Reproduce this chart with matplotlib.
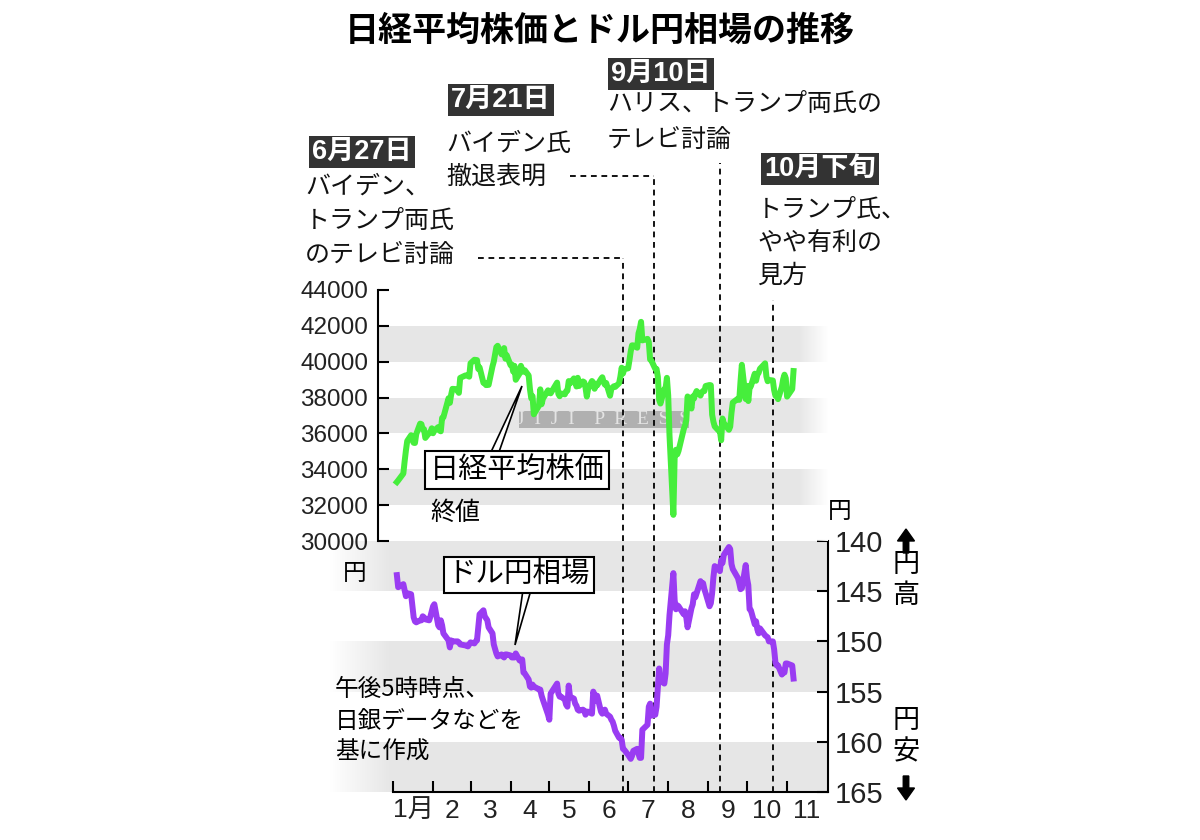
import numpy as np
import pandas as pd
import matplotlib
matplotlib.use('Agg')
import matplotlib.pyplot as plt
from matplotlib.patches import Rectangle, Polygon
from matplotlib.transforms import blended_transform_factory

plt.rcParams['font.family'] = ['Noto Sans CJK JP', 'DejaVu Sans']

# 日経平均株価 終値 (2024年)
nikkei_dates = [
    '01-04', '01-05', '01-09', '01-10', '01-11', '01-12', '01-15', '01-16', '01-17', '01-18',
    '01-19', '01-22', '01-23', '01-24', '01-25', '01-26', '01-29', '01-30', '01-31',
    '02-01', '02-02', '02-05', '02-06', '02-07', '02-08', '02-09', '02-13', '02-14', '02-15',
    '02-16', '02-19', '02-20', '02-21', '02-22', '02-26', '02-27', '02-28', '02-29',
    '03-01', '03-04', '03-05', '03-06', '03-07', '03-08', '03-11', '03-12', '03-13', '03-14',
    '03-15', '03-18', '03-19', '03-21', '03-22', '03-25', '03-26', '03-27', '03-28', '03-29',
    '04-01', '04-02', '04-03', '04-04', '04-05', '04-08', '04-09', '04-10', '04-11', '04-12',
    '04-15', '04-16', '04-17', '04-18', '04-19', '04-22', '04-23', '04-24', '04-25', '04-26',
    '04-30', '05-01', '05-02', '05-07', '05-08', '05-09', '05-10', '05-13', '05-14', '05-15',
    '05-16', '05-17', '05-20', '05-21', '05-22', '05-23', '05-24', '05-27', '05-28', '05-29',
    '05-30', '05-31', '06-03', '06-04', '06-05', '06-06', '06-07', '06-10', '06-11', '06-12',
    '06-13', '06-14', '06-17', '06-18', '06-19', '06-20', '06-21', '06-24', '06-25', '06-26',
    '06-27', '06-28', '07-01', '07-02', '07-03', '07-04', '07-05', '07-08', '07-09', '07-10',
    '07-11', '07-12', '07-16', '07-17', '07-18', '07-19', '07-22', '07-23', '07-24', '07-25',
    '07-26', '07-29', '07-30', '07-31', '08-01', '08-02', '08-05', '08-06', '08-07', '08-08',
    '08-09', '08-13', '08-14', '08-15', '08-16', '08-19', '08-20', '08-21', '08-22', '08-23',
    '08-26', '08-27', '08-28', '08-29', '08-30', '09-02', '09-03', '09-04', '09-05', '09-06',
    '09-09', '09-10', '09-11', '09-12', '09-13', '09-17', '09-18', '09-19', '09-20', '09-24',
    '09-25', '09-26', '09-27', '09-30', '10-01', '10-02', '10-03', '10-04', '10-07', '10-08',
    '10-09', '10-10', '10-11', '10-15', '10-16', '10-17', '10-18', '10-21', '10-22', '10-23',
    '10-24', '10-25', '10-28', '10-29', '10-30', '10-31', '11-01', '11-05', '11-06',
]
nikkei_values = [
    33288, 33377, 33763, 34441, 35049, 35577, 35901, 35619, 35477, 35466,
    35963, 36546, 36517, 36226, 36236, 35751, 36026, 36065, 36286,
    36011, 36158, 36354, 36160, 36119, 36863, 36897, 37963, 37703, 38157,
    38487, 38470, 38363, 38262, 39098, 39233, 39239, 39208, 39166,
    39910, 40109, 40097, 40090, 39598, 39688, 38820, 38797, 38695, 38807,
    38707, 39740, 40003, 40815, 40888, 40414, 40398, 40762, 40168, 40369,
    39803, 39838, 39451, 39773, 38992, 39347, 39773, 39581, 39442, 39523,
    39232, 38471, 37962, 38079, 37068, 37438, 37552, 38460, 37628, 37934,
    38405, 38274, 38236, 38835, 38202, 38073, 38229, 38179, 38356, 38385,
    38920, 38787, 39069, 38946, 38617, 39103, 38646, 38900, 38855, 38556,
    38054, 38487, 38923, 38837, 38490, 38703, 38683, 39038, 39134, 38876,
    38720, 38814, 38102, 38482, 38570, 38633, 38596, 38804, 39173, 39667,
    39341, 39583, 39631, 40074, 40580, 40913, 40912, 40780, 41580, 41831,
    42224, 41190, 41275, 41097, 40126, 40063, 39599, 39594, 39154, 37869,
    37667, 38468, 38526, 39101, 38126, 35909, 31458, 34675, 35089, 34831,
    35025, 36232, 36442, 36726, 38062, 37388, 38062, 37951, 38211, 38364,
    38110, 38288, 38371, 38362, 38647, 38700, 38686, 37047, 36657, 36391,
    36159, 36159, 35619, 36833, 36581, 36203, 36380, 37155, 37723, 37940,
    37870, 38925, 39829, 37919, 38651, 37808, 38552, 38635, 39332, 38937,
    39277, 39380, 39605, 39910, 39180, 38911, 38981, 38954, 38411, 38104,
    38143, 37913, 38605, 39027, 39277, 39081, 38053, 38474, 39480,
]

# ドル円相場 (午後5時時点)
usdjpy_dates = nikkei_dates
usdjpy_values = [
    143.4, 144.6, 144.3, 144.9, 145.5, 145.2, 145.3, 146.5, 147.6, 148.0,
    148.1, 147.9, 147.9, 147.5, 147.6, 147.8, 147.9, 147.5, 147.0,
    146.5, 146.3, 148.4, 148.6, 147.9, 148.4, 149.2, 149.9, 150.6, 149.9,
    150.0, 150.0, 150.0, 150.1, 150.3, 150.4, 150.4, 150.5, 150.3,
    150.1, 150.2, 150.0, 149.9, 148.6, 147.3, 146.9, 147.5, 147.7, 147.9,
    148.6, 149.2, 150.3, 151.2, 151.5, 151.3, 151.5, 151.6, 151.3, 151.3,
    151.4, 151.6, 151.6, 151.6, 151.2, 151.9, 151.8, 151.8, 153.1, 153.2,
    153.8, 154.5, 154.6, 154.3, 154.5, 154.7, 154.8, 154.8, 155.4, 155.8,
    157.3, 157.8, 155.2, 154.2, 155.2, 155.5, 155.5, 155.8, 156.3, 156.5,
    154.4, 155.5, 155.7, 156.2, 156.4, 156.8, 156.9, 156.8, 156.9, 157.3,
    157.0, 157.0, 157.2, 155.0, 155.4, 155.9, 155.4, 157.0, 157.2, 157.1,
    156.8, 157.2, 157.5, 157.8, 158.0, 158.4, 158.9, 159.6, 159.6, 159.8,
    160.7, 160.8, 161.3, 161.5, 161.7, 161.4, 160.9, 160.7, 161.2, 161.6,
    161.6, 158.8, 158.3, 156.5, 156.2, 157.4, 157.3, 156.5, 154.6, 152.7,
    153.9, 154.2, 153.2, 150.3, 149.4, 147.4, 143.2, 145.9, 146.8, 146.4,
    146.5, 147.3, 147.0, 147.6, 148.6, 146.7, 146.3, 145.3, 145.6, 145.2,
    144.0, 144.5, 144.2, 144.8, 145.2, 146.5, 146.2, 145.2, 143.6, 142.5,
    142.8, 143.0, 141.9, 142.2, 141.4, 140.6, 140.8, 142.3, 142.8, 143.7,
    144.2, 144.8, 144.7, 142.4, 143.7, 144.4, 146.8, 146.9, 148.3, 148.0,
    148.8, 149.2, 148.7, 149.4, 149.5, 149.6, 150.0, 150.0, 150.8, 152.1,
    152.4, 152.4, 153.3, 153.0, 153.1, 152.2, 152.2, 152.4, 153.7,
]

month_labels = ['1月', '2', '3', '4', '5', '6', '7', '8', '9', '10', '11']
nikkei_ticks = list(range(30000, 44001, 2000))
usdjpy_ticks = [140, 145, 150, 155, 160, 165]

event_dates = ['06-27', '07-21', '09-10', '10-21']
event_labels = ['6月27日', '7月21日', '9月10日', '10月下旬']
event_texts = [
    ['バイデン、', 'トランプ両氏', 'のテレビ討論'],
    ['バイデン氏', '撤退表明'],
    ['ハリス、トランプ両氏の', 'テレビ討論'],
    ['トランプ氏、', 'やや有利の', '見方'],
]


def day_of_year(md_list):
    d = pd.to_datetime(['2024-' + s for s in md_list])
    return np.asarray(d.dayofyear - 1, dtype=float)


nk_x = day_of_year(nikkei_dates)
fx_x = day_of_year(usdjpy_dates)
ev_x = day_of_year(event_dates)
month_start = np.asarray(pd.date_range('2024-01-01', '2024-12-01', freq='MS').dayofyear - 1, dtype=float)
month_start[-1] = 335
month_mid = (month_start[:-1] + month_start[1:]) / 2

W, H = 1200, 840
X0 = 393          # 1月1日の位置(px)
PPD = 1.292       # 1日あたりのpx
GREEN = '#46ee3c'
PURPLE = '#9a3cf2'
BAND = '#e6e6e6'
NUM_FONT = ['Liberation Sans', 'Noto Sans CJK JP']


def fbox(l, t, r, b):
    return [l / W, 1 - b / H, (r - l) / W, (b - t) / H]


def px2day(x):
    return (x - X0) / PPD


fig = plt.figure(figsize=(12, 8.4), dpi=100)
fig.patch.set_facecolor('white')

ax2 = fig.add_axes(fbox(330, 541, 828, 792))
ax1 = fig.add_axes(fbox(378, 290, 828, 541))
ov = fig.add_axes([0, 0, 1, 1])
ax2.set_zorder(1)
ax1.set_zorder(2)
ov.set_zorder(3)
ov.set_xlim(0, W)
ov.set_ylim(H, 0)
ov.axis('off')

# ---- 上段: 日経平均株価 ----
for lo in nikkei_ticks[1::2]:
    ax1.axhspan(lo, lo + 2000, color=BAND, lw=0, zorder=0)
fade = np.ones((1, 64, 4))
fade[..., 3] = np.linspace(0, 1, 64)
ax1.imshow(fade, extent=[px2day(798), px2day(828), 30000, 44000], aspect='auto', zorder=0.5)
ax1.plot(nk_x, nikkei_values, color=GREEN, lw=4.3, solid_joinstyle='round', zorder=3)
ax1.set_xlim(px2day(378), px2day(828))
ax1.set_ylim(30000, 44000)
ax1.set_yticks(nikkei_ticks)
ax1.set_xticks([])
for s in ['top', 'right', 'bottom']:
    ax1.spines[s].set_visible(False)
ax1.spines['left'].set_linewidth(1.5)
ax1.tick_params(axis='y', direction='in', length=8, width=1.5, pad=7, labelsize=17.5)
for t in ax1.get_yticklabels():
    t.set_family(NUM_FONT)
    t.set_color('#222222')
ax1.patch.set_alpha(0)

# 透かし
ax1.add_patch(Rectangle((519, 411), 170, 17, transform=ov.transData, fc='#8c8c8c',
                        alpha=0.6, lw=0, zorder=1.5, clip_on=False))
ax1.text(604, 420, 'J  I  J  I    P  R  E  S  S', transform=ov.transData, ha='center',
         va='center', fontsize=14, color='#e4e4e4', family='Liberation Serif', zorder=1.6,
         clip_on=False)

# ---- 下段: ドル円相場 ----
for lo in usdjpy_ticks[0:-1:2]:
    ax2.axhspan(lo, lo + 5, color=BAND, lw=0, zorder=0)
fade2 = np.ones((1, 64, 4))
fade2[..., 3] = np.linspace(1, 0, 64)
ax2.imshow(fade2, extent=[px2day(330), px2day(392), 165, 140], aspect='auto', zorder=0.5)
ax2.plot(fx_x, usdjpy_values, color=PURPLE, lw=4.3, solid_joinstyle='round', zorder=3)
ax2.set_xlim(px2day(330), px2day(828))
ax2.set_ylim(165, 140)
ax2.yaxis.tick_right()
ax2.set_yticks(usdjpy_ticks)
ax2.set_xticks(month_start[:-1])
ax2.set_xticklabels([])
ax2.set_xticks(month_mid, minor=True)
ax2.set_xticklabels(month_labels, minor=True)
for s in ['top', 'left']:
    ax2.spines[s].set_visible(False)
ax2.spines['right'].set_linewidth(1.5)
ax2.spines['bottom'].set_linewidth(1.5)
ax2.spines['bottom'].set_bounds(0, px2day(828))
ax2.tick_params(axis='y', which='major', direction='in', length=8, width=1.5, pad=5, labelsize=21)
ax2.tick_params(axis='x', which='major', direction='in', length=8, width=1.5)
ax2.tick_params(axis='x', which='minor', length=0, pad=5, labelsize=19)
for t in ax2.get_yticklabels() + ax2.get_xticklabels(minor=True):
    t.set_family(NUM_FONT)
    t.set_color('#222222')
ax2.patch.set_alpha(0)

# ---- イベントの縦破線 ----
dash = (0, (3.2, 2.6))
line_top = [258, 176, 163, 300]
blend = blended_transform_factory(ax1.transData, ax1.transAxes)
for d, top in zip(ev_x, line_top):
    ax2.axvline(d, color='black', lw=1.3, ls=dash, zorder=2)
    ax1.plot([d, d], [0, (541 - top) / 251], transform=blend, color='black', lw=1.3,
             ls=dash, zorder=2, clip_on=False)

fig.canvas.draw()
ev_px = [ax1.transData.transform((d, 0))[0] for d in ev_x]
ov.plot([478, ev_px[0]], [258, 258], color='black', lw=1.3, ls=dash)
ov.plot([570, ev_px[1]], [176, 176], color='black', lw=1.3, ls=dash)

# ---- 注記 ----
ov.text(600, 30, '日経平均株価とドル円相場の推移', ha='center', va='center',
        fontsize=24.5, fontweight='bold')

label_pos = [(312, 152), (451, 100), (611, 74), (764, 169)]
text_pos = [(305, [187, 221, 255]), (446, [144, 177]), (607, [104, 140]), (757, [210, 243, 276])]
for lab, (lx, ly), lines, (tx, tys) in zip(event_labels, label_pos, event_texts, text_pos):
    ov.text(lx, ly, lab, ha='left', va='center', color='white', fontsize=19.5, family=NUM_FONT,
            fontweight='bold',
            bbox=dict(boxstyle='square,pad=0.12', fc='#333333', ec='none'))
    for line, ty in zip(lines, tys):
        ov.text(tx, ty, line, ha='left', va='center', fontsize=18, color='#111111')

# 吹き出し
ov.add_patch(Polygon([(491, 452), (499, 452), (522, 386)], closed=True, fc='white',
                     ec='black', lw=1.2, zorder=2))
ov.text(517, 470, '日経平均株価', ha='center', va='center', fontsize=21, zorder=3,
        bbox=dict(boxstyle='square,pad=0.15', fc='white', ec='black', lw=1.5))
ov.add_patch(Polygon([(523, 590), (531, 590), (515, 645)], closed=True, fc='white',
                     ec='black', lw=1.2, zorder=2))
ov.text(519, 575, 'ドル円相場', ha='center', va='center', fontsize=20.5, zorder=3,
        bbox=dict(boxstyle='square,pad=0.12', fc='white', ec='black', lw=1.5))

ov.text(430, 513, '終値', ha='left', va='center', fontsize=18)
ov.text(335, 721, '午後5時時点、\n日銀データなどを\n基に作成', ha='left', va='center',
        fontsize=17, linespacing=1.45)

ov.text(355, 573, '円', ha='center', va='center', fontsize=17)
ov.text(840, 512, '円', ha='center', va='center', fontsize=17)

ov.text(906, 580, '円\n高', ha='center', va='center', fontsize=19.5, linespacing=1.2)
ov.text(906, 736, '円\n安', ha='center', va='center', fontsize=19.5, linespacing=1.2)
ov.arrow(906, 553, 0, -12, width=5.5, head_width=17, head_length=12, fc='black', ec='black',
         length_includes_head=False)
ov.arrow(906, 776, 0, 12, width=5.5, head_width=17, head_length=12, fc='black', ec='black',
         length_includes_head=False)

fig.savefig('out.png', dpi=100, facecolor='white')
